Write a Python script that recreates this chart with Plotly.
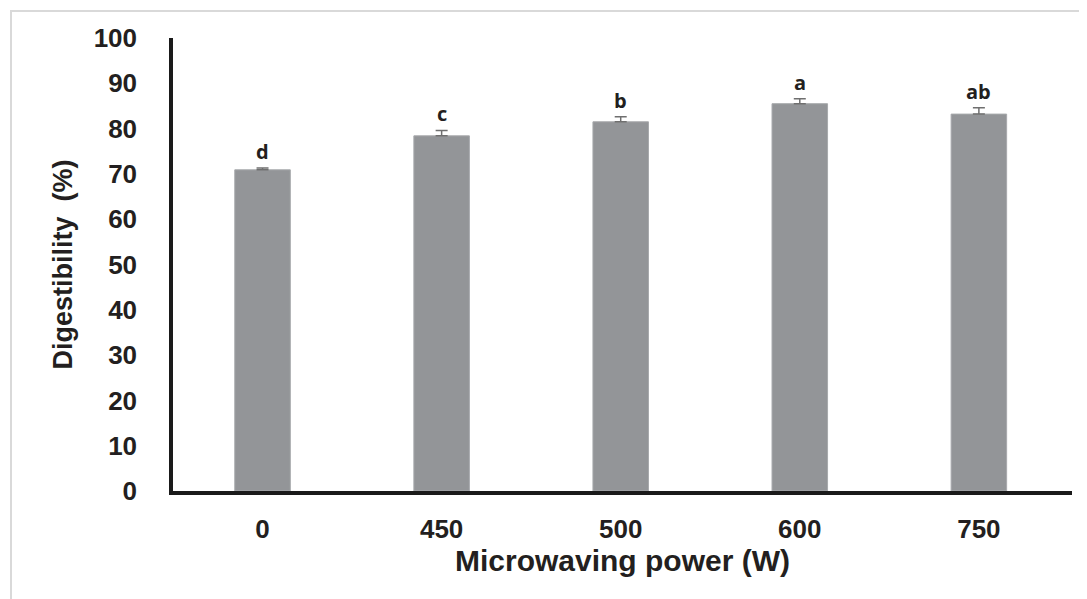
import plotly.graph_objects as go

categories = ["0", "450", "500", "600", "750"]
digestibility = [70.9, 78.4, 81.5, 85.5, 83.2]
errors = [0.4, 1.2, 1.1, 1.1, 1.4]
letters = ["d", "c", "b", "a", "ab"]
y_ticks = [0, 10, 20, 30, 40, 50, 60, 70, 80, 90, 100]

# page body has an 8px margin, so the figure is placed at (8, 8)
OFF = 8
W, H = 1087 - OFF, 599 - OFF
L, R, T, B = 173 - OFF, 15, 38 - OFF, 108
pw, ph = W - L - R, H - T - B

font_main = "Liberation Sans, Arial, sans-serif"
dark = "#231f20"

fig = go.Figure()
fig.add_trace(go.Bar(
    x=categories, y=digestibility,
    width=0.31,
    marker=dict(color="#939598", line=dict(color="#a7a9ac", width=1)),
    error_y=dict(type="data", array=errors, arrayminus=[0] * len(errors),
                 symmetric=False, color="#6f6f6f", thickness=1.5, width=6),
))

for i, (v, e, t) in enumerate(zip(digestibility, errors, letters)):
    fig.add_annotation(x=i, y=v + e, text="<b>%s</b>" % t, showarrow=False,
                       yanchor="bottom", yshift=1,
                       font=dict(family="Open Sans, Liberation Sans, sans-serif", size=20, color=dark))

# light gray image frame
fig.add_shape(type="rect", xref="paper", yref="paper",
              x0=(11 - OFF - L) / pw, x1=(W + 20 - L) / pw,
              y0=-(H + 20 - T - ph) / ph, y1=(T + ph - (11 - OFF)) / ph,
              line=dict(color="#d9d9d9", width=2), layer="below")

fig.update_layout(
    width=W, height=H,
    margin=dict(l=L, r=R, t=T, b=B, pad=0, autoexpand=False),
    paper_bgcolor="white", plot_bgcolor="white",
    showlegend=False,
    font=dict(family=font_main, color=dark),
)
fig.update_xaxes(
    type="category", range=[-0.5, 4.52],
    showline=True, linecolor="#1a1a1a", linewidth=3.5,
    ticks="", showgrid=False, zeroline=False,
    tickfont=dict(family=font_main, size=26, color=dark),
    ticklabelstandoff=12,
    tickvals=categories, ticktext=["<b>%s</b>" % c for c in categories],
    title=dict(text="<b>Microwaving power (W)</b>", standoff=6,
               font=dict(family=font_main, size=30, color=dark)),
)
fig.update_yaxes(
    range=[0, 100],
    showline=True, linecolor="#1a1a1a", linewidth=3.5,
    ticks="", showgrid=False, zeroline=False,
    tickvals=y_ticks, ticktext=["<b>%d</b>" % v for v in y_ticks],
    tickfont=dict(family=font_main, size=26, color=dark),
    ticklabelstandoff=27,
    title=dict(text="<b>Digestibility  (%)</b>", standoff=14,
               font=dict(family=font_main, size=27, color=dark)),
)

fig.write_html("out.html")
